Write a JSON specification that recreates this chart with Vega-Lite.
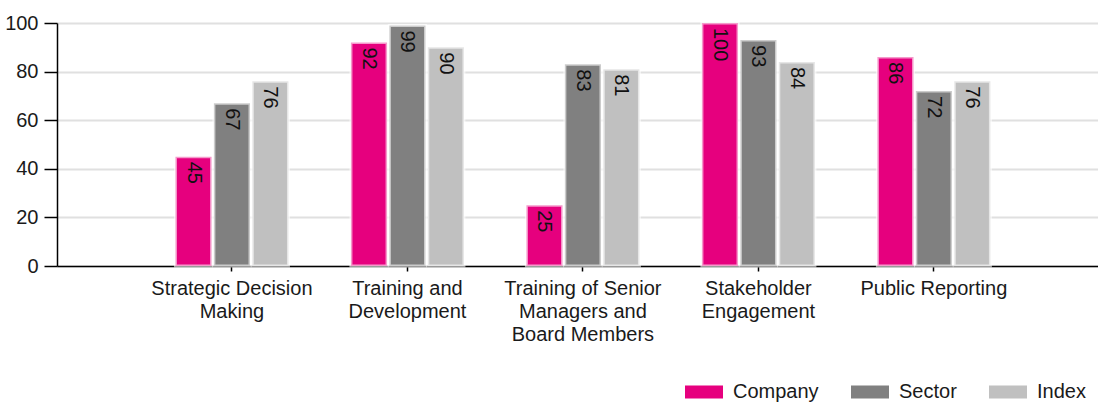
{
  "$schema": "https://vega.github.io/schema/vega-lite/v6.json",
  "width": 1041,
  "height": 243,
  "autosize": {"type": "none"},
  "padding": {"left": 57, "top": 23, "right": 0, "bottom": 137},
  "config": {
    "view": {"stroke": null},
    "font": "Liberation Sans",
    "text": {"font": "Liberation Sans"}
  },
  "data": {
    "values": [
      {"cat": "Strategic Decision Making", "series": "Company", "value": 45},
      {"cat": "Strategic Decision Making", "series": "Sector", "value": 67},
      {"cat": "Strategic Decision Making", "series": "Index", "value": 76},
      {"cat": "Training and Development", "series": "Company", "value": 92},
      {"cat": "Training and Development", "series": "Sector", "value": 99},
      {"cat": "Training and Development", "series": "Index", "value": 90},
      {"cat": "Training of Senior Managers and Board Members", "series": "Company", "value": 25},
      {"cat": "Training of Senior Managers and Board Members", "series": "Sector", "value": 83},
      {"cat": "Training of Senior Managers and Board Members", "series": "Index", "value": 81},
      {"cat": "Stakeholder Engagement", "series": "Company", "value": 100},
      {"cat": "Stakeholder Engagement", "series": "Sector", "value": 93},
      {"cat": "Stakeholder Engagement", "series": "Index", "value": 84},
      {"cat": "Public Reporting", "series": "Company", "value": 86},
      {"cat": "Public Reporting", "series": "Sector", "value": 72},
      {"cat": "Public Reporting", "series": "Index", "value": 76}
    ]
  },
  "encoding": {
    "x": {
      "field": "cat",
      "type": "nominal",
      "sort": ["Strategic Decision Making", "Training and Development", "Training of Senior Managers and Board Members", "Stakeholder Engagement", "Public Reporting"],
      "scale": {"paddingInner": 0.356, "paddingOuter": 0.644, "align": 0.524},
      "title": null,
      "axis": {
        "labelAngle": 0,
        "labelBaseline": "top",
        "labelFont": "Liberation Sans",
        "labelFontSize": 20,
        "labelColor": "#1a1a1a",
        "labelPadding": 7,
        "labelLineHeight": 23,
        "domainColor": "#000",
        "domainWidth": 1.5,
        "tickColor": "#000",
        "tickWidth": 1.5,
        "tickSize": 5,
        "grid": false,
        "labelExpr": "datum.label == 'Strategic Decision Making' ? ['Strategic Decision','Making'] : datum.label == 'Training and Development' ? ['Training and','Development'] : datum.label == 'Training of Senior Managers and Board Members' ? ['Training of Senior','Managers and','Board Members'] : datum.label == 'Stakeholder Engagement' ? ['Stakeholder','Engagement'] : datum.label"
      }
    },
    "xOffset": {
      "field": "series",
      "type": "nominal",
      "sort": ["Company", "Sector", "Index"],
      "scale": {"paddingInner": 0.06}
    },
    "y": {
      "field": "value",
      "type": "quantitative",
      "scale": {"domain": [0, 100]},
      "title": null,
      "axis": {
        "values": [0, 20, 40, 60, 80, 100],
        "labelFont": "Liberation Sans",
        "labelFontSize": 20,
        "labelColor": "#1a1a1a",
        "domainColor": "#000",
        "domainWidth": 1.5,
        "tickColor": "#000",
        "tickWidth": 1.5,
        "tickSize": 13,
        "labelPadding": 6,
        "grid": true,
        "gridColor": "#e0e0e0",
        "gridWidth": 2
      }
    }
  },
  "layer": [
    {
      "mark": {"type": "bar", "stroke": "white", "strokeWidth": 3, "strokeOpacity": 0.6},
      "encoding": {
        "color": {
          "field": "series",
          "type": "nominal",
          "sort": ["Company", "Sector", "Index"],
          "scale": {"domain": ["Company", "Sector", "Index"], "range": ["#E6007E", "#808080", "#C0C0C0"]},
          "legend": {
            "title": null,
            "orient": "none",
            "legendX": 628,
            "legendY": 350,
            "direction": "horizontal",
            "symbolType": "M-1,-0.34L1,-0.34L1,0.34L-1,0.34Z",
            "symbolSize": 1444,
            "symbolStrokeWidth": 0,
            "symbolOpacity": 1,
            "labelFont": "Liberation Sans",
            "labelFontSize": 20,
            "labelColor": "#1a1a1a",
            "labelOffset": 10,
            "columnPadding": 32
          }
        }
      }
    },
    {
      "mark": {"type": "text", "angle": 90, "align": "left", "baseline": "middle", "dx": 5, "fontSize": 20, "font": "Liberation Sans", "color": "#111"},
      "encoding": {"text": {"field": "value", "type": "quantitative"}}
    }
  ]
}
